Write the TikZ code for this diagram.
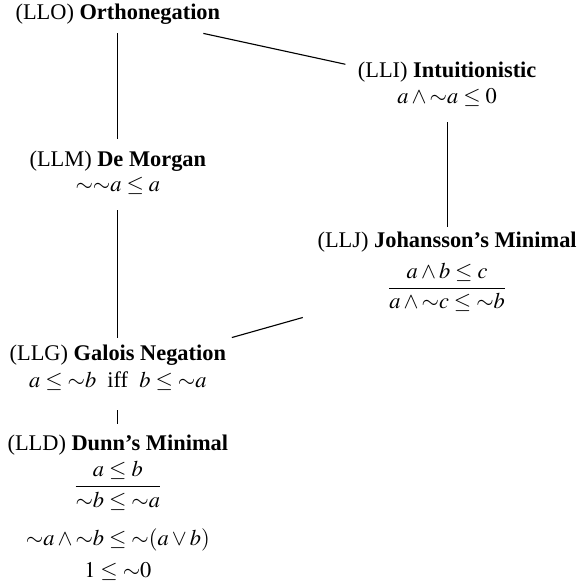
\documentclass[tikz,border=0pt]{standalone}
\usepackage{amsmath}
\usepackage{mathptmx}
\usepackage[no-math]{fontspec}
\setmainfont{Liberation Serif}
\usetikzlibrary{calc}
\tikzset{
  head/.style={
    anchor=base,
    inner sep=0pt,
    font=\normalsize,
    text=black
  },
  law/.style={
    anchor=base,
    inner sep=0pt,
    font=\normalsize,
    text=black
  },
  link/.style={
    draw=black,
    line width=0.5pt
  }
}

\begin{document}
\begin{tikzpicture}[x=1cm,y=1cm]
  \useasboundingbox (0,0) rectangle (9.15,9.20);

  % Left column: the chain from orthonegation down to Dunn.
  \node[head] (llo) at (1.85,8.89) {(LLO) \textbf{Orthonegation}};
  \node[head] (llm) at (1.85,6.59) {(LLM) \textbf{De Morgan}};
  \node[law] (llm-law) at (1.85,6.20) {${\sim}{\sim}a\leq a$};
  \node[head] (llg) at (1.85,3.54) {(LLG) \textbf{Galois Negation}};
  \node[law] (llg-law) at (1.85,3.12)
    {$a\leq{\sim}b$\ \ iff\ \ $b\leq{\sim}a$};
  \node[head] (lld) at (1.85,2.12) {(LLD) \textbf{Dunn's Minimal}};
  \node[law] (lld-rule) at (1.85,1.48) {$\dfrac{a\leq b}{{\sim}b\leq{\sim}a}$};
  \node[law] (lld-meet) at (1.85,0.63)
    {${\sim}a\wedge{\sim}b\leq{\sim}(a\vee b)$};
  \node[law] (lld-unit) at (1.85,0.13) {$1\leq{\sim}0$};

  % Right column: intuitionistic and Johansson.
  \node[head] (lli) at (7.02,7.98) {(LLI) \textbf{Intuitionistic}};
  \node[law] (lli-law) at (7.02,7.57) {$a\wedge{\sim}a\leq 0$};
  \node[head] (llj) at (7.02,5.31) {(LLJ) \textbf{Johansson's Minimal}};
  \node[law] (llj-law) at (7.02,4.59)
    {$\dfrac{a\wedge b\leq c}{a\wedge{\sim}c\leq{\sim}b}$};

  % Edges of the lattice.
  \draw[link] ($(llo.south)+(0,-0.13)$) -- ($(llm.north)+(0,0.17)$);
  \draw[link] ($(llo.south east)+(-0.27,-0.13)$) --
    ($(lli.north west)+(-0.19,-0.04)$);
  \draw[link] ($(lli-law.south)+(0,-0.235)$) -- ($(llj.north)+(0,0.07)$);
  \draw[link] ($(llm-law.south)+(0,-0.25)$) -- ($(llg.north)+(0,0.11)$);
  \draw[link] ($(llj-law.south west)+(-1.31,-0.08)$) --
    ($(llg.north east)+(0.085,0.11)$);
  \draw[link] ($(llg-law.south)+(0,-0.31)$) -- ($(lld.north)+(0,0.17)$);
\end{tikzpicture}
\end{document}
